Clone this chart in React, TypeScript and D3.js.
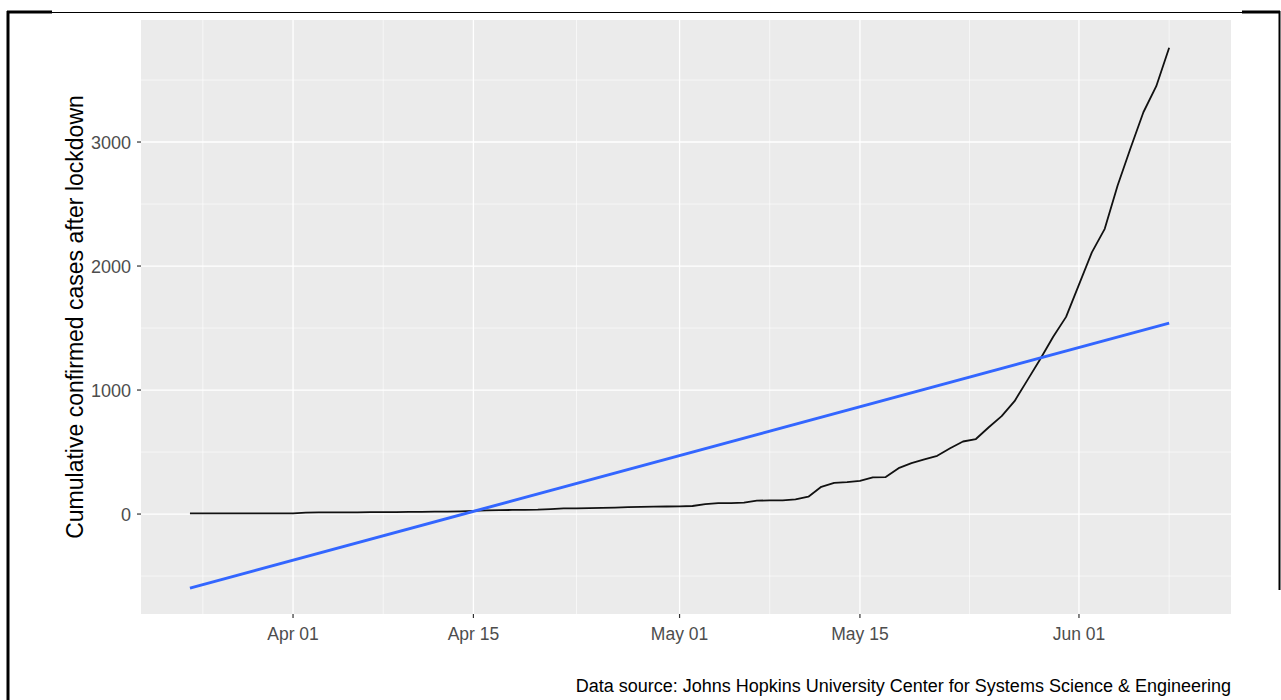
import React from "react";
import * as d3 from "d3";

// ---- data ----
const startDate = Date.UTC(2020, 2, 24); // Mar 24, 2020
const cumulativeCases = [
  5, 5, 5, 5, 5, 5, 5, 5, 6, 12,
  13, 14, 14, 14, 15, 15, 16, 17, 18, 19,
  20, 22, 25, 30, 32, 33, 34, 35, 40, 45,
  46, 47, 50, 52, 56, 58, 60, 61, 62, 65,
  80, 88, 88, 92, 108, 110, 110, 118, 140, 220,
  252, 258, 268, 295, 298, 370, 410, 440, 470, 530,
  585, 605, 700, 790, 910, 1080, 1250, 1430, 1590, 1850,
  2110, 2300, 2650, 2950, 3240, 3450, 3760,
];
const trendStartValue = -597;
const trendEndValue = 1540;

const yTicks = [0, 1000, 2000, 3000];
const yMinor = [-500, 500, 1500, 2500, 3500];
const xTickDates = [
  Date.UTC(2020, 3, 1),
  Date.UTC(2020, 3, 15),
  Date.UTC(2020, 4, 1),
  Date.UTC(2020, 4, 15),
  Date.UTC(2020, 5, 1),
];
const xTickLabels = ["Apr 01", "Apr 15", "May 01", "May 15", "Jun 01"];
const xMinorDates = [
  Date.UTC(2020, 2, 25),
  Date.UTC(2020, 3, 8),
  Date.UTC(2020, 3, 23),
  Date.UTC(2020, 4, 8),
  Date.UTC(2020, 4, 23, 12),
  Date.UTC(2020, 5, 8),
];

const DAY = 86400000;

export default function App() {
  const panel = { left: 141, right: 1231, top: 20, bottom: 614 };
  const x = d3
    .scaleUtc()
    .domain([new Date(Date.UTC(2020, 3, 1) - 11.8 * DAY), new Date(Date.UTC(2020, 5, 1) + 11.8 * DAY)])
    .range([panel.left, panel.right]);
  const y = d3.scaleLinear().domain([-806, 3984]).range([panel.bottom, panel.top]);

  const pts = cumulativeCases.map((v, i) => ({ d: new Date(startDate + i * DAY), v }));
  const line = d3
    .line<{ d: Date; v: number }>()
    .x((p) => x(p.d))
    .y((p) => y(p.v));
  const endDate = new Date(startDate + (cumulativeCases.length - 1) * DAY);
  const trend = [
    { d: new Date(startDate), v: trendStartValue },
    { d: endDate, v: trendEndValue },
  ];

  const font = "'Liberation Sans', Arial, sans-serif";

  return (
    <svg
      width={1281}
      height={700}
      style={{ position: "absolute", left: 0, top: 0, background: "#fff" }}
      fontFamily={font}
    >
      {/* frame */}
      <line x1={8} x2={1279} y1={12.5} y2={12.5} stroke="#000" strokeWidth={1} />
      <line x1={7} x2={52} y1={12} y2={12} stroke="#000" strokeWidth={3} />
      <line x1={1242} x2={1280} y1={12} y2={12} stroke="#000" strokeWidth={3} />
      <line x1={8} x2={8} y1={11} y2={700} stroke="#000" strokeWidth={3} />
      <line x1={1279.5} x2={1279.5} y1={11} y2={590} stroke="#000" strokeWidth={2} />

      {/* panel */}
      <rect
        x={panel.left}
        y={panel.top}
        width={panel.right - panel.left}
        height={panel.bottom - panel.top}
        fill="#EBEBEB"
      />
      {yMinor.map((t) => (
        <line key={"ym" + t} x1={panel.left} x2={panel.right} y1={y(t)} y2={y(t)} stroke="#fff" strokeWidth={0.6} />
      ))}
      {xMinorDates.map((t) => (
        <line key={"xm" + t} x1={x(new Date(t))} x2={x(new Date(t))} y1={panel.top} y2={panel.bottom} stroke="#fff" strokeWidth={0.6} />
      ))}
      {yTicks.map((t) => (
        <line key={"yM" + t} x1={panel.left} x2={panel.right} y1={y(t)} y2={y(t)} stroke="#fff" strokeWidth={1.3} />
      ))}
      {xTickDates.map((t) => (
        <line key={"xM" + t} x1={x(new Date(t))} x2={x(new Date(t))} y1={panel.top} y2={panel.bottom} stroke="#fff" strokeWidth={1.3} />
      ))}

      {/* series */}
      <path d={line(pts) || ""} fill="none" stroke="#111" strokeWidth={1.8} strokeLinejoin="round" />
      <path d={line(trend) || ""} fill="none" stroke="#3366FF" strokeWidth={3} />

      {/* y axis */}
      {yTicks.map((t) => (
        <g key={"yt" + t}>
          <line x1={panel.left - 4} x2={panel.left} y1={y(t)} y2={y(t)} stroke="#333" strokeWidth={1.2} />
          <text x={panel.left - 10} y={y(t)} dy="0.36em" textAnchor="end" fontSize={18} fill="#4D4D4D">
            {t}
          </text>
        </g>
      ))}
      {/* x axis */}
      {xTickDates.map((t, i) => (
        <g key={"xt" + t}>
          <line x1={x(new Date(t))} x2={x(new Date(t))} y1={panel.bottom} y2={panel.bottom + 4} stroke="#333" strokeWidth={1.2} />
          <text x={x(new Date(t))} y={640} textAnchor="middle" fontSize={17.5} fill="#4D4D4D">
            {xTickLabels[i]}
          </text>
        </g>
      ))}

      <text
        transform={`translate(83,${(panel.top + panel.bottom) / 2}) rotate(-90)`}
        textAnchor="middle"
        fontSize={23}
        fill="#000"
      >
        Cumulative confirmed cases after lockdown
      </text>

      <text x={panel.right} y={692} textAnchor="end" fontSize={18} fill="#000">
        Data source: Johns Hopkins University Center for Systems Science &amp; Engineering
      </text>
    </svg>
  );
}
